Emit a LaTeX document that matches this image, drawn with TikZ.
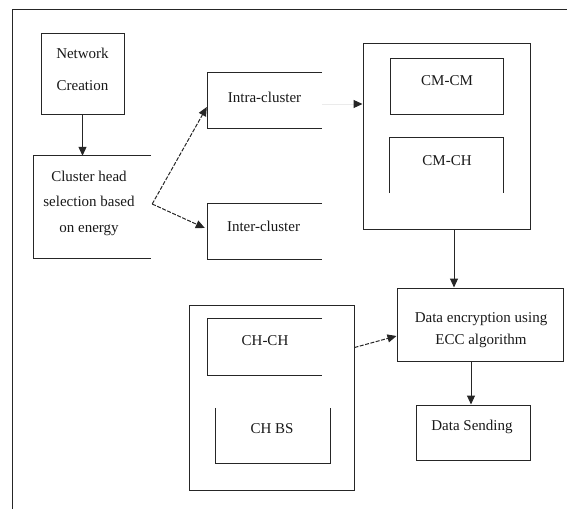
\documentclass[tikz,border=0pt]{standalone}
\usepackage{fontspec}
\setmainfont{Liberation Serif}
\usetikzlibrary{arrows.meta,calc}
\begin{document}
\begin{tikzpicture}[x=1pt,y=-1pt,
  ln/.style={draw=black!85, line width=1pt},
  txt/.style={font=\fontsize{15}{26}\selectfont, align=center, text=black!90, inner sep=0pt},
  shapebox/.style={inner sep=0pt},
  closedbox/.style={shapebox, ln},
  arr/.style={ln, -{Triangle[length=9pt,width=8pt]}},
  darr/.style={arr, dash pattern=on 4pt off 1.5pt}]
\useasboundingbox (0,0) rectangle (567,509);
% outer frame (top and left sides visible)
\draw[ln] (12,509) -- (12,9.5) -- (567,9.5);

% boxes
\node[closedbox, minimum width=83pt, minimum height=81pt] (net) at (82.5,73.5) {};
\node[shapebox, minimum width=117pt, minimum height=102pt] (chs) at (92.5,207) {};
\draw[ln] (chs.north east) -- (chs.north west) -- (chs.south west) -- (chs.south east);
\node[shapebox, minimum width=114pt, minimum height=55pt] (intra) at (265,100.5) {};
\draw[ln] (intra.north east) -- (intra.north west) -- (intra.south west) -- (intra.south east);
\node[shapebox, minimum width=114pt, minimum height=55pt] (inter) at (265,231.5) {};
\draw[ln] (inter.north east) -- (inter.north west) -- (inter.south west) -- (inter.south east);

\node[closedbox, minimum width=167pt, minimum height=186pt] (cmbox) at (446.5,136) {};
\node[closedbox, minimum width=113pt, minimum height=56pt] (cmcm) at (446.5,86) {};
\node[shapebox, minimum width=113pt, minimum height=55pt] (cmch) at (446.5,165.5) {};
\draw[ln] (cmch.south west) -- (cmch.north west) -- (cmch.north east) -- (cmch.south east);

\node[closedbox, minimum width=166pt, minimum height=73pt] (enc) at (480,324.5) {};
\node[closedbox, minimum width=114pt, minimum height=55pt] (send) at (473,432.5) {};

\node[closedbox, minimum width=165pt, minimum height=185pt] (chbox) at (271.5,397.5) {};
\node[shapebox, minimum width=114pt, minimum height=56pt] (chch) at (265,347) {};
\draw[ln] (chch.north east) -- (chch.north west) -- (chch.south west) -- (chch.south east);
\node[shapebox, minimum width=114pt, minimum height=55pt] (chbs) at (273,435.5) {};
\draw[ln] (chbs.north west) -- (chbs.south west) -- (chbs.south east) -- (chbs.north east);

% texts
\node[txt, font=\fontsize{15}{32}\selectfont] (tnet) at (82.5,69) {Network\\Creation};
\node[txt, font=\fontsize{15}{25.5}\selectfont] (tchs) at (89,203) {Cluster head\\selection based\\on energy};
\node[txt] (tintra) at (264.5,97) {Intra-cluster};
\node[txt] (tinter) at (263.5,226) {Inter-cluster};
\node[txt] (tcmcm) at (447,80.5) {CM-CM};
\node[txt] (tcmch) at (447,160.5) {CM-CH};
\node[txt, font=\fontsize{15}{21.5}\selectfont] (tenc) at (481,330) {Data encryption using\\ECC algorithm};
\node[txt] (tsend) at (472,427) {Data Sending};
\node[txt] (tchch) at (265,340.5) {CH-CH};
\node[txt] (tchbs) at (272,428.5) {CH BS};

% connectors
\draw[arr] (net.south) -- (net.south |- chs.north);
\draw[darr] ($(chs.east)+(1,-3)$) -- ($(intra.west)+(-1,6.5)$);
\draw[darr] ($(chs.east)+(1,-3)$) -- ($(inter.west)+(-3,-3.5)$);
\draw[line width=1pt, draw=black!8, -{Triangle[length=9pt,width=8pt,color=black!85]}] ($(intra.east)+(0,3.5)$) -- ($(cmbox.west)+(0,-32)$);
\draw[arr] ($(cmbox.south)+(7.5,0)$) coordinate (a1) -- (a1 |- enc.north);
\draw[arr] ($(enc.south)+(-9,0)$) coordinate (a2) -- (a2 |- send.north);
\draw[darr] ($(chbox.east)+(0,-50)$) -- ($(enc.west)+(0,11.5)$);
\end{tikzpicture}
\end{document}
